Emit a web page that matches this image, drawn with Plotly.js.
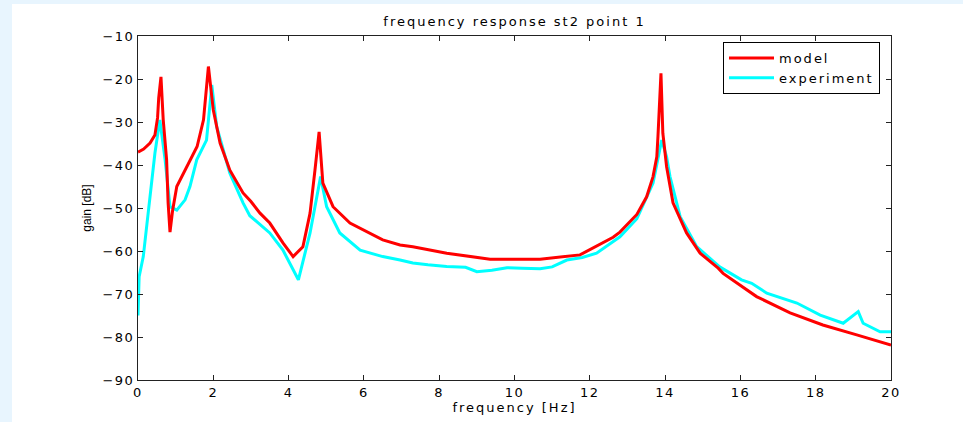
<!DOCTYPE html>
<html>
<head>
<meta charset="utf-8">
<script src="https://cdn.plot.ly/plotly-3.0.1.min.js"></script>
<style>
  html, body { margin: 0; padding: 0; background: #E8F5FE; width: 963px; height: 422px; overflow: hidden; }
  #plot { position: absolute; left: 12px; top: 4px; width: 951px; height: 418px; background: #ffffff; }
  .gtitle, .xtitle, .legendtext { letter-spacing: 2px; }
  .xtick text, .ytick text { letter-spacing: 1.5px; }
</style>
</head>
<body>
<div id="plot"></div>
<script>
// ---- data ----
var modelFreq = [0, 0.15, 0.32, 0.45, 0.52, 0.55, 0.61, 0.63, 0.67, 0.76, 0.80, 0.85, 0.92, 1.03, 1.30, 1.57, 1.74, 1.81, 1.87, 1.96, 2.00, 2.18, 2.44, 2.79, 3.0, 3.24, 3.5, 3.85, 4.12, 4.38, 4.57, 4.70, 4.81, 4.91, 5.18, 5.63, 6.5, 6.96, 7.3, 8.2, 9.35, 10.68, 11.74, 12.62, 12.8, 13.25, 13.51, 13.68, 13.78, 13.81, 13.89, 13.94, 14.04, 14.21, 14.57, 14.93, 15.41, 15.54, 16.43, 17.32, 18.19, 19.09, 20];
var modelGain = [-37, -36.3, -34.9, -33, -29, -24.4, -19.5, -24, -29.5, -38.8, -48.8, -55.6, -50.5, -45, -40.4, -35.7, -29.5, -23.3, -17.1, -24.1, -27.2, -34.9, -41.2, -46.5, -48.5, -51.2, -53.5, -58.1, -61.3, -59, -51.2, -41.2, -32.3, -44.2, -49.7, -53.5, -57.4, -58.6, -59, -60.5, -61.9, -61.9, -60.9, -56.8, -55.6, -51.5, -47.4, -42.7, -38.1, -33.4, -18.7, -32.6, -40.4, -48.8, -55.8, -60.5, -64, -65.2, -70.6, -74.4, -77.2, -79.5, -81.9];

var expFreq = [0, 0.03, 0.14, 0.32, 0.45, 0.58, 0.72, 0.85, 1.03, 1.25, 1.38, 1.56, 1.82, 1.96, 2.09, 2.44, 2.79, 2.97, 3.24, 3.5, 3.85, 4.26, 4.57, 4.75, 4.85, 5.01, 5.36, 5.9, 6.5, 6.96, 7.3, 7.7, 8.2, 8.7, 9.0, 9.4, 9.8, 10.2, 10.68, 11.0, 11.39, 11.8, 12.18, 12.8, 13.25, 13.68, 13.81, 13.91, 14.04, 14.13, 14.40, 14.84, 15.45, 15.8, 16.03, 16.3, 16.7, 17.5, 18.12, 18.73, 19.13, 19.26, 19.71, 20];
var expGain = [-75, -66, -61.3, -46.5, -37.2, -29.5, -38.8, -49.7, -50.5, -48.1, -45, -38.8, -34.2, -21.4, -31.1, -41.9, -48.8, -51.8, -53.8, -55.8, -59.8, -66.7, -55.8, -47.4, -42.7, -49.7, -55.8, -59.8, -61.3, -62.1, -62.8, -63.2, -63.6, -63.8, -64.8, -64.5, -63.9, -64.0, -64.1, -63.7, -62.1, -61.5, -60.5, -56.7, -52.5, -44.2, -38.8, -34.2, -38.1, -42.7, -52, -59, -63.7, -65.5, -66.7, -67.5, -69.8, -72.1, -74.9, -76.8, -74.1, -76.8, -78.8, -78.8];

var seriesNames = ['model', 'experiment'];
var xTicks = [0, 2, 4, 6, 8, 10, 12, 14, 16, 18, 20];
var yTicks = [-90, -80, -70, -60, -50, -40, -30, -20, -10];

var font = 'DejaVu Sans, Verdana, sans-serif';

var traces = [
  { x: expFreq, y: expGain, name: seriesNames[1], type: 'scatter', mode: 'lines',
    line: { color: '#00FFFF', width: 3 } },
  { x: modelFreq, y: modelGain, name: seriesNames[0], type: 'scatter', mode: 'lines',
    line: { color: '#FF0000', width: 3 } }
];

var axisCommon = {
  showline: true, linecolor: '#222', linewidth: 1, mirror: 'ticks',
  ticks: 'inside', ticklen: 5, tickcolor: '#222', tickwidth: 1,
  showgrid: false, zeroline: false,
  tickfont: { family: font, size: 13, color: '#000' }
};

var layout = {
  width: 951, height: 418,
  margin: { l: 126, r: 72, t: 32, b: 42, pad: 0 },
  paper_bgcolor: '#ffffff', plot_bgcolor: '#ffffff',
  title: { text: 'frequency response st2 point 1', x: 0.5, xref: 'paper',
           y: 1 - 17 / 418, yref: 'container', yanchor: 'middle',
           font: { family: font, size: 13, color: '#000' } },
  xaxis: Object.assign({}, axisCommon, {
    range: [0, 20], tickvals: xTicks, ticktext: xTicks.map(String),
    title: { text: 'frequency [Hz]', standoff: 4, font: { family: font, size: 13, color: '#000' } }
  }),
  yaxis: Object.assign({}, axisCommon, {
    range: [-90, -10], tickvals: yTicks,
    title: { text: 'gain [dB]', standoff: 8, font: { family: 'Liberation Sans, Arial, sans-serif', size: 12, color: '#000' } }
  }),
  showlegend: true,
  legend: { x: 0.9854, y: 0.9826, xanchor: 'right', yanchor: 'top', traceorder: 'reversed',
            bgcolor: '#ffffff', bordercolor: '#000', borderwidth: 1, itemwidth: 45,
            font: { family: font, size: 13, color: '#000' } }
};

Plotly.newPlot('plot', traces, layout, { displayModeBar: false, staticPlot: true });
</script>
</body>
</html>
